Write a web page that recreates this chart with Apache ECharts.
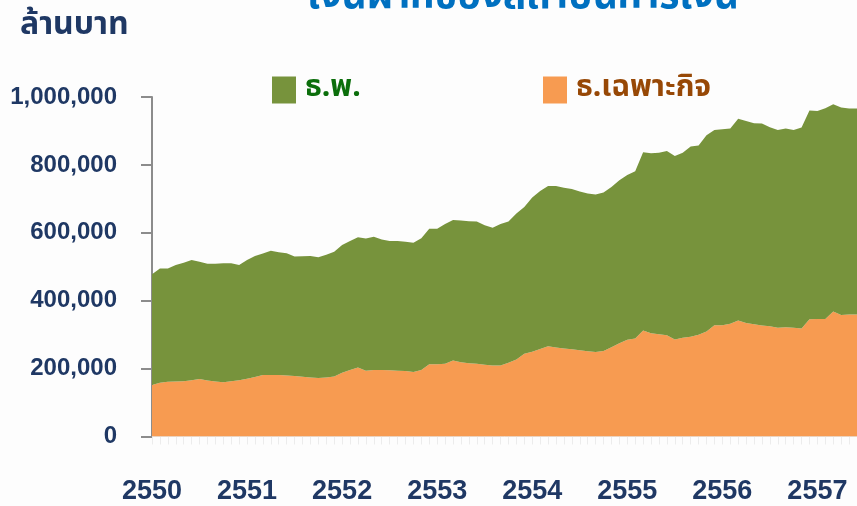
<!DOCTYPE html>
<html><head><meta charset="utf-8">
<script src="https://cdn.jsdelivr.net/npm/echarts@6/dist/echarts.min.js"></script>
<style>html,body{margin:0;padding:0;background:#fdfdfd}#c{width:857px;height:506px}</style>
</head><body><div id="c"></div>
<script>
var years = ['2550','2551','2552','2553','2554','2555','2556','2557'];
var yTicks = [0, 200000, 400000, 600000, 800000, 1000000];
var seriesNames = ['ธ.เฉพาะกิจ', 'ธ.พ.'];
// Specialized financial institutions (bottom, orange), monthly, million baht
var specialized = [152000,158000,161000,162000,163000,166000,169000,165000,162000,160000,163000,166000,
170000,175000,181000,181000,181000,180000,178000,176000,174000,172000,174000,177000,
188000,196000,203000,194000,196000,196000,195000,194000,193000,190000,196000,213000,
213000,214000,224000,219000,216000,214000,211000,209000,209000,217000,227000,244000,
250000,258000,266000,262000,259000,257000,254000,251000,249000,252000,263000,275000,
285000,289000,312000,304000,301000,298000,286000,291000,294000,300000,309000,328000,
328000,332000,342000,334000,331000,327000,325000,320000,322000,320000,318000,345000,
346000,346000,368000,358000,359000,359000];
// Commercial banks (top, green), monthly, million baht
var commercial = [326000,337000,334000,343000,349000,354000,346000,344000,347000,350000,347000,339000,
350000,357000,358000,366000,362000,360000,352000,355000,358000,356000,361000,367000,
376000,380000,384000,389000,392000,384000,381000,382000,381000,381000,388000,399000,
399000,412000,414000,417000,418000,419000,411000,406000,417000,416000,430000,432000,
454000,465000,472000,476000,474000,472000,468000,465000,464000,467000,472000,480000,
485000,492000,525000,530000,535000,543000,540000,545000,560000,557000,578000,575000,
577000,575000,594000,595000,592000,595000,586000,583000,585000,583000,592000,615000,
613000,621000,611000,611000,607000,607000];

var categories = [];
for (var i = 0; i < specialized.length; i++) {
  categories.push(years[0] + '-' + i);
}
var navy = '#1F3864';
var thai = "'Noto Sans Thai','Noto Sans','Liberation Sans',sans-serif";
var chart = echarts.init(document.getElementById('c'));
chart.setOption({
  backgroundColor: '#fdfdfd',
  animation: false,
  graphic: [
    {type:'text', left: 20, top: 12, style:{text:'ล้านบาท', fill: navy, font: "bold 32px " + thai}},
    {type:'text', x: 523, y: 20, style:{text:'เงินฝากของสถาบันการเงิน', fill:'#0070C0', font:"bold 39px " + thai, textAlign:'center', textVerticalAlign:'bottom'}}
  ],
  legend: [
    {data:[{name: seriesNames[1], textStyle:{color:'#0b6e0b'}}], left: 272, top: 75, padding: 0, itemWidth: 24, itemHeight: 27, icon:'rect',
      textStyle:{fontSize: 30, fontWeight:'bold', fontFamily: thai, padding:[0,0,0,4]}},
    {data:[{name: seriesNames[0], textStyle:{color:'#974806'}}], left: 543, top: 75, padding: 0, itemWidth: 24, itemHeight: 27, icon:'rect',
      textStyle:{fontSize: 30, fontWeight:'bold', fontFamily: thai, padding:[0,0,0,4]}}
  ],
  grid: {left: 152, right: -3.4, top: 97, bottom: 69.5},
  xAxis: {
    type: 'category', data: categories, boundaryGap: false,
    axisLine: {show: true, lineStyle: {color: '#e6e6e6', width: 1}},
    axisTick: {show: true, interval: 0, length: 8, lineStyle: {color: '#ececec'}},
    axisLabel: {
      interval: function (idx) { return idx % 12 === 0; },
      formatter: function (v, idx) { return years[Math.floor(idx / 12)]; },
      margin: 42, fontSize: 27, fontWeight: 'bold', color: navy, fontFamily: "'Liberation Sans', Arial, sans-serif"
    },
    splitLine: {show: false}
  },
  yAxis: {
    type: 'value', min: yTicks[0], max: yTicks[yTicks.length-1], interval: yTicks[1]-yTicks[0],
    axisLine: {show: true, lineStyle: {color: '#8c8c8c', width: 2}},
    axisTick: {show: true, length: 11, lineStyle: {color: '#8c8c8c', width: 2}},
    axisLabel: {
      margin: 35, fontSize: 24, fontWeight: 'bold', color: navy, fontFamily: "'Liberation Sans', Arial, sans-serif",
      formatter: function (v) { return v.toLocaleString('en-US'); }
    },
    splitLine: {show: false}
  },
  series: [
    {name: seriesNames[0], type: 'line', stack: 'total', data: specialized, symbol: 'none',
      lineStyle: {width: 0}, itemStyle: {color: '#F79B51'}, areaStyle: {color: '#F79B51', opacity: 1}},
    {name: seriesNames[1], type: 'line', stack: 'total', data: commercial, symbol: 'none',
      lineStyle: {width: 0}, itemStyle: {color: '#77933C'}, areaStyle: {color: '#77933C', opacity: 1}}
  ]
});
</script></body></html>
